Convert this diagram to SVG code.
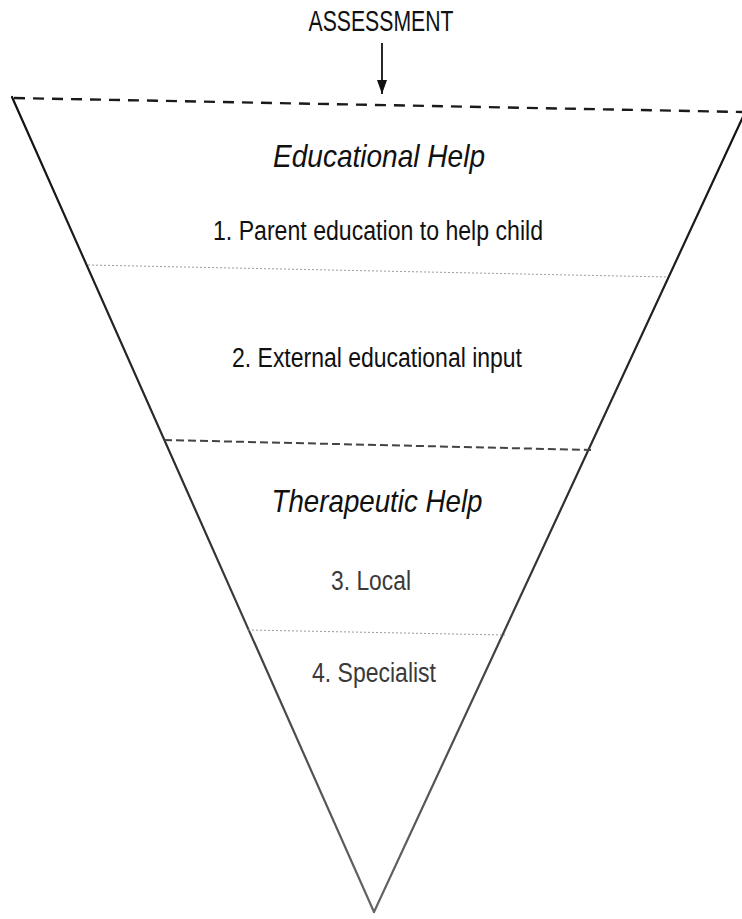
<svg xmlns="http://www.w3.org/2000/svg" width="742" height="919" viewBox="0 0 742 919">
  <defs>
    <linearGradient id="sideInk" gradientUnits="userSpaceOnUse" x1="0" y1="100" x2="0" y2="912">
      <stop offset="0" stop-color="#111"/>
      <stop offset="0.55" stop-color="#333"/>
      <stop offset="1" stop-color="#666"/>
    </linearGradient>
    <marker id="arrowDown" markerWidth="14" markerHeight="10" refX="14" refY="5" orient="auto" markerUnits="userSpaceOnUse" viewBox="0 0 14 10">
      <path d="M0,0 L14,5 L0,10 Z" fill="#111"/>
    </marker>
    <style>
      .label { font-family: "Liberation Sans", Arial, Helvetica, sans-serif; fill: #111; }
      .head { font-style: italic; font-size: 32px; }
      .item { font-size: 27px; }
      .soft { fill: #3a3a3a; }
      .side { stroke: url(#sideInk); stroke-width: 2.2; fill: none; stroke-linecap: round; }
      .dash-top { stroke: #1a1a1a; stroke-width: 2.4; stroke-dasharray: 11 8; fill: none; }
      .dash-mid { stroke: #444; stroke-width: 2; stroke-dasharray: 8 4; fill: none; }
      .dotted { stroke: #9a9a9a; stroke-width: 1; stroke-dasharray: 2 2; fill: none; }
    </style>
  </defs>

  <rect width="742" height="919" fill="#fff"/>

  <!-- funnel outline and tier dividers -->
  <g id="connectors">
    <line class="side" x1="12" y1="97" x2="374" y2="912"/>
    <line class="side" x1="748" y1="106" x2="374" y2="912"/>
    <line class="dash-top" x1="14" y1="98" x2="742" y2="112"/>
    <line class="dotted" x1="88" y1="265" x2="668" y2="277"/>
    <line class="dash-mid" x1="164" y1="440" x2="591" y2="450"/>
    <line class="dotted" x1="248" y1="630" x2="505" y2="635"/>
    <line x1="382" y1="43" x2="382" y2="94" stroke="#111" stroke-width="1.8" marker-end="url(#arrowDown)"/>
  </g>

  <g id="assessment">
    <text class="label" x="381" y="31" font-size="29" text-anchor="middle" textLength="145" lengthAdjust="spacingAndGlyphs">ASSESSMENT</text>
  </g>

  <g id="educational-help">
    <text class="label head" x="379" y="167" text-anchor="middle" textLength="212" lengthAdjust="spacingAndGlyphs">Educational Help</text>
  </g>

  <g id="tier-1">
    <text class="label item" x="378" y="240" text-anchor="middle" textLength="330" lengthAdjust="spacingAndGlyphs">1.  Parent education to help child</text>
  </g>

  <g id="tier-2">
    <text class="label item" x="377" y="367" text-anchor="middle" textLength="290" lengthAdjust="spacingAndGlyphs">2.  External educational input</text>
  </g>

  <g id="therapeutic-help">
    <text class="label head" x="377" y="512" text-anchor="middle" textLength="211" lengthAdjust="spacingAndGlyphs">Therapeutic Help</text>
  </g>

  <g id="tier-3">
    <text class="label item soft" x="371" y="590" text-anchor="middle" textLength="80" lengthAdjust="spacingAndGlyphs">3.  Local</text>
  </g>

  <g id="tier-4">
    <text class="label item soft" x="374" y="682" text-anchor="middle" textLength="124" lengthAdjust="spacingAndGlyphs">4.  Specialist</text>
  </g>
</svg>
